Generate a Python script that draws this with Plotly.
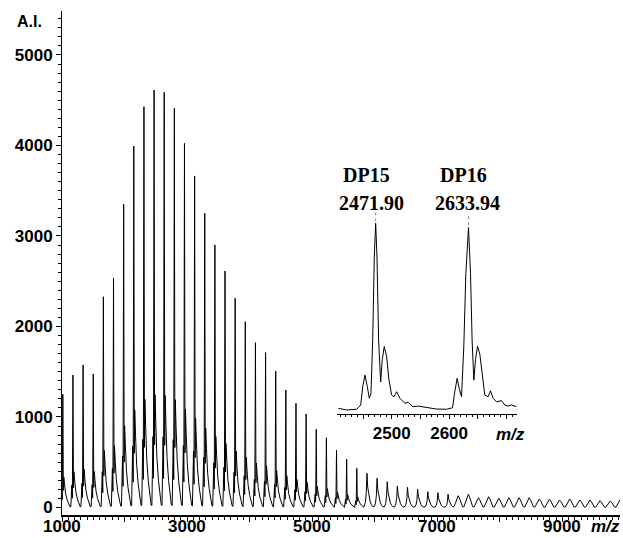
import plotly.graph_objects as go

# ---------------- data ----------------
DP = list(range(6, 62))
PEAK_MZ = [1013.5, 1175.6, 1337.6, 1499.7, 1661.7, 1823.7, 1985.8, 2147.8, 2309.9, 2471.9,
           2633.9, 2796.0, 2958.0, 3120.1, 3282.1, 3444.1, 3606.2, 3768.2, 3930.3, 4092.3,
           4254.3, 4416.4, 4578.4, 4740.5, 4902.5, 5064.5, 5226.6, 5388.6, 5550.7, 5712.7,
           5874.7, 6036.8, 6198.8, 6360.9, 6522.9, 6684.9, 6847.0, 7009.0, 7171.1, 7333.1,
           7495.1, 7657.2, 7819.2, 7981.3, 8143.3, 8305.3, 8467.4, 8629.4, 8791.5, 8953.5,
           9115.5, 9277.6, 9439.6, 9601.7, 9763.7, 9925.7]
PEAK_HEIGHT = [1250, 1464, 1575, 1475, 2329, 2532, 3350, 3994, 4429, 4613,
               4588, 4411, 4024, 3663, 3251, 2901, 2613, 2312, 2053, 1821,
               1711, 1508, 1298, 1151, 1033, 864, 771, 635, 533, 433,
               378, 323, 285, 238, 223, 201, 175, 164, 146, 130,
               146, 108, 119, 102, 108, 108, 108, 94, 91, 83,
               94, 83, 83, 75, 72, 90]

SHARP_OFFSETS = [-35, -18, -10, 0, 8, 15, 28, 45, 70, 95, 115]
SHARP_FRACS = [0.005, 0.17, 0.07, 1.0, 0.15, 0.27, 0.2, 0.12, 0.065, 0.03, 0.006]
MEDIUM_OFFSETS = [-45, -25, -10, 0, 12, 30, 50, 70, 90]
MEDIUM_FRACS = [0.03, 0.15, 0.45, 1.0, 0.6, 0.35, 0.18, 0.08, 0.03]
BROAD_OFFSETS = [-70, -45, -20, 0, 20, 45, 70]
BROAD_FRACS = [0.05, 0.35, 0.8, 1.0, 0.8, 0.4, 0.06]

# inset (DP15 / DP16 region)
INSET_MZ = [2406.7, 2421.4, 2438.8, 2445.8, 2449.3, 2453.3, 2457.3, 2460.8, 2463.7, 2466.7,
            2469.5, 2471.9, 2474.2, 2477.1, 2480.6, 2483.4, 2486.9, 2491.1, 2495.1, 2499.8,
            2503.8, 2508.5, 2514.2, 2522.9, 2528.7, 2536.4, 2546.1, 2557.8, 2566.5, 2578.2,
            2595.6, 2606.1, 2609.5, 2614.1, 2617.6, 2621.7, 2625.7, 2629.2, 2633.9, 2637.4,
            2640.2, 2643.2, 2646.1, 2649.6, 2653.6, 2657.6, 2662.3, 2668.1, 2672.3, 2676.8,
            2682.7, 2691.4, 2697.2, 2702.9, 2708.8, 2717.6]
INSET_INT = [0.009, 0.0, 0.004, 0.027, 0.125, 0.187, 0.125, 0.063, 0.09, 0.37,
             0.82, 1.0, 0.82, 0.37, 0.15, 0.27, 0.34, 0.285, 0.16, 0.08,
             0.071, 0.098, 0.063, 0.036, 0.041, 0.018, 0.021, 0.014, 0.009, 0.005,
             0.004, 0.012, 0.09, 0.17, 0.116, 0.071, 0.34, 0.73, 0.977, 0.73,
             0.37, 0.16, 0.27, 0.342, 0.30, 0.196, 0.08, 0.071, 0.103, 0.063,
             0.044, 0.05, 0.027, 0.021, 0.027, 0.018]

Y_TICKS = [0, 1000, 2000, 3000, 4000, 5000]
X_TICKS = [1000, 2000, 3000, 4000, 5000, 6000, 7000, 8000, 9000]
X_LABELS = [1000, 3000, 5000, 7000, 9000]
INSET_TICKS = [2450, 2500, 2550, 2600, 2650, 2700]
INSET_TICK_TEXT = ["", "2500", "", "2600", "", ""]
LABEL_DP = ["DP15", "DP16"]
LABEL_MZ = ["2471.90", "2633.94"]

# ---------------- build spectrum line ----------------
xs, ys = [], []
for dp, mz, h in zip(DP, PEAK_MZ, PEAK_HEIGHT):
    if dp <= 35:
        offs, fr = SHARP_OFFSETS, SHARP_FRACS
    elif dp <= 44:
        offs, fr = MEDIUM_OFFSETS, MEDIUM_FRACS
    else:
        offs, fr = BROAD_OFFSETS, BROAD_FRACS
    for o, f in zip(offs, fr):
        xs.append(mz + o)
        ys.append(h * f)

SANS = "Liberation Sans"
SERIF = "Liberation Serif"

fig = go.Figure()
fig.add_trace(go.Scatter(x=xs, y=ys, mode="lines", line=dict(color="black", width=1),
                         xaxis="x", yaxis="y", showlegend=False, hoverinfo="skip"))
fig.add_trace(go.Scatter(x=INSET_MZ, y=INSET_INT, mode="lines", line=dict(color="black", width=1),
                         xaxis="x2", yaxis="y2", showlegend=False, hoverinfo="skip"))

tickfont = dict(family=SANS, size=17, color="black", weight="bold")

fig.update_layout(
    template="none",
    width=623, height=538,
    margin=dict(l=62, r=3, t=11, b=23),
    paper_bgcolor="white", plot_bgcolor="white",
    xaxis=dict(range=[1000, 9920], showgrid=False, zeroline=False,
               showline=True, linecolor="black", linewidth=2,
               tickmode="array", tickvals=X_TICKS, showticklabels=False,
               ticks="outside", ticklen=5, tickcolor="black", tickwidth=1,
               minor=dict(ticks="outside", dtick=100, tick0=0, ticklen=3, tickcolor="black"),
               automargin=False, anchor="y"),
    yaxis=dict(range=[-83, 5486], showgrid=False, zeroline=False,
               showline=True, linecolor="black", linewidth=1,
               tickmode="array", tickvals=Y_TICKS,
               ticks="outside", ticklen=5, tickcolor="black", tickwidth=1,
               minor=dict(ticks="outside", dtick=100, tick0=0, ticklen=3, tickcolor="black"),
               tickfont=tickfont, automargin=False, anchor="x"),
    xaxis2=dict(domain=[0.4934, 0.8149], range=[2405, 2718], anchor="y2",
                showgrid=False, zeroline=False, showline=True, linecolor="black", linewidth=1,
                tickmode="array", tickvals=INSET_TICKS, ticktext=INSET_TICK_TEXT,
                ticks="outside", ticklen=4, tickcolor="black",
                minor=dict(ticks="outside", dtick=10, tick0=0, ticklen=2, tickcolor="black"),
                tickfont=tickfont, automargin=False),
    yaxis2=dict(domain=[0.2004, 0.625], range=[-0.0214, 1.1248], anchor="x2",
                visible=False, showgrid=False, zeroline=False),
)

# label guide lines above inset apexes
for mz, y0, y1 in [(PEAK_MZ[9], 1.01, 1.06), (2633.94, 0.99, 1.04)]:
    fig.add_shape(type="line", xref="x2", yref="y2", x0=mz, x1=mz, y0=y0, y1=y1,
                  line=dict(color="#888888", width=1, dash="dot"))

ann = []
def add(text, x, y, family, size, xref="paper", yanchor="middle"):
    ann.append(dict(text=text, x=x, y=y, xref=xref, yref="paper", xanchor="center",
                    yanchor=yanchor, showarrow=False, borderpad=0,
                    font=dict(family=family, size=size, color="black")))

for v in X_LABELS:
    add("<b>%d</b>" % v, v, -0.0444, SANS, 17, xref="x", yanchor="bottom")
add("<b>A.I.</b>", -0.0591, 0.980, SANS, 16)
add("<b><i>m/z</i></b>", 0.974, -0.0444, SANS, 17, yanchor="bottom")
add("<b><i>m/z</i></b>", 0.8029, 0.1607, SANS, 17)
for lab, xp in zip(LABEL_DP, [0.546, 0.7192]):
    add("<b>" + lab + "</b>", xp, 0.6746, SERIF, 20)
for lab, xp in zip(LABEL_MZ, [0.5538, 0.7271]):
    add("<b>" + lab + "</b>", xp, 0.619, SERIF, 20)
fig.update_layout(annotations=ann)

fig.write_html("out.html", post_script="document.body.style.margin='0';",
               config={"displayModeBar": False})
